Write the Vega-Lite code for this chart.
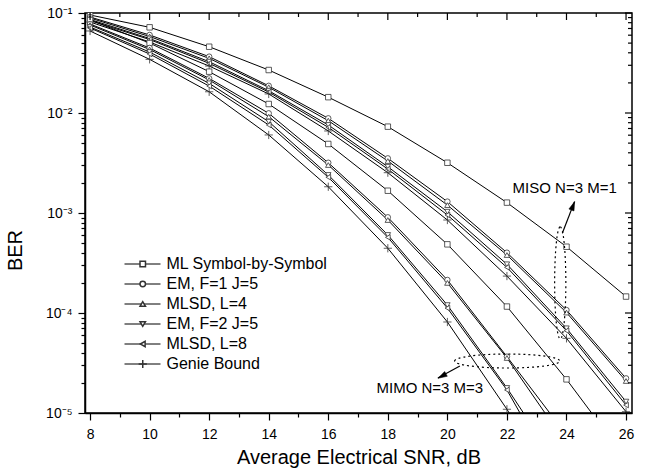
{
  "$schema": "https://vega.github.io/schema/vega-lite/v6.json",
  "width": 547,
  "height": 400,
  "autosize": {"type": "none"},
  "padding": {"left": 85, "top": 13, "right": 15, "bottom": 59},
  "background": "white",
  "config": {
    "font": "Liberation Sans",
    "view": {"stroke": "black", "strokeWidth": 1.5},
    "axis": {
      "grid": false, "domainColor": "black", "domainWidth": 1.5, "tickColor": "black", "tickWidth": 1.2,
      "labelColor": "black", "titleColor": "black", "labelFont": "Liberation Sans", "titleFont": "Liberation Sans",
      "labelFontSize": 14, "titleFontSize": 20, "titleFontWeight": "normal", "labelOverlap": false, "labelFlush": false
    }
  },
  "datasets": {
    "ber": [
      {"system":"MISO","method":"ML Symbol-by-Symbol","snr":8,"ber":0.0955},
      {"system":"MISO","method":"ML Symbol-by-Symbol","snr":10,"ber":0.0719},
      {"system":"MISO","method":"ML Symbol-by-Symbol","snr":12,"ber":0.046},
      {"system":"MISO","method":"ML Symbol-by-Symbol","snr":14,"ber":0.0269},
      {"system":"MISO","method":"ML Symbol-by-Symbol","snr":16,"ber":0.0144},
      {"system":"MISO","method":"ML Symbol-by-Symbol","snr":18,"ber":0.0073},
      {"system":"MISO","method":"ML Symbol-by-Symbol","snr":20,"ber":0.00318},
      {"system":"MISO","method":"ML Symbol-by-Symbol","snr":22,"ber":0.00127},
      {"system":"MISO","method":"ML Symbol-by-Symbol","snr":24,"ber":0.00046},
      {"system":"MISO","method":"ML Symbol-by-Symbol","snr":26,"ber":0.000146},
      {"system":"MISO","method":"EM, F=1 J=5","snr":8,"ber":0.0912},
      {"system":"MISO","method":"EM, F=1 J=5","snr":10,"ber":0.0603},
      {"system":"MISO","method":"EM, F=1 J=5","snr":12,"ber":0.0366},
      {"system":"MISO","method":"EM, F=1 J=5","snr":14,"ber":0.0187},
      {"system":"MISO","method":"EM, F=1 J=5","snr":16,"ber":0.00885},
      {"system":"MISO","method":"EM, F=1 J=5","snr":18,"ber":0.00352},
      {"system":"MISO","method":"EM, F=1 J=5","snr":20,"ber":0.0013},
      {"system":"MISO","method":"EM, F=1 J=5","snr":22,"ber":0.000401},
      {"system":"MISO","method":"EM, F=1 J=5","snr":24,"ber":0.000107},
      {"system":"MISO","method":"EM, F=1 J=5","snr":26,"ber":0.0000222},
      {"system":"MISO","method":"MLSD, L=4","snr":8,"ber":0.0891},
      {"system":"MISO","method":"MLSD, L=4","snr":10,"ber":0.0582},
      {"system":"MISO","method":"MLSD, L=4","snr":12,"ber":0.0352},
      {"system":"MISO","method":"MLSD, L=4","snr":14,"ber":0.0181},
      {"system":"MISO","method":"MLSD, L=4","snr":16,"ber":0.00838},
      {"system":"MISO","method":"MLSD, L=4","snr":18,"ber":0.00331},
      {"system":"MISO","method":"MLSD, L=4","snr":20,"ber":0.0012},
      {"system":"MISO","method":"MLSD, L=4","snr":22,"ber":0.00038},
      {"system":"MISO","method":"MLSD, L=4","snr":24,"ber":0.000101},
      {"system":"MISO","method":"MLSD, L=4","snr":26,"ber":0.0000209},
      {"system":"MISO","method":"EM, F=2 J=5","snr":8,"ber":0.0861},
      {"system":"MISO","method":"EM, F=2 J=5","snr":10,"ber":0.0556},
      {"system":"MISO","method":"EM, F=2 J=5","snr":12,"ber":0.0326},
      {"system":"MISO","method":"EM, F=2 J=5","snr":14,"ber":0.0167},
      {"system":"MISO","method":"EM, F=2 J=5","snr":16,"ber":0.00759},
      {"system":"MISO","method":"EM, F=2 J=5","snr":18,"ber":0.0029},
      {"system":"MISO","method":"EM, F=2 J=5","snr":20,"ber":0.00103},
      {"system":"MISO","method":"EM, F=2 J=5","snr":22,"ber":0.000307},
      {"system":"MISO","method":"EM, F=2 J=5","snr":24,"ber":0.0000703},
      {"system":"MISO","method":"EM, F=2 J=5","snr":26,"ber":0.000013},
      {"system":"MISO","method":"MLSD, L=8","snr":8,"ber":0.0841},
      {"system":"MISO","method":"MLSD, L=8","snr":10,"ber":0.0543},
      {"system":"MISO","method":"MLSD, L=8","snr":12,"ber":0.0314},
      {"system":"MISO","method":"MLSD, L=8","snr":14,"ber":0.0162},
      {"system":"MISO","method":"MLSD, L=8","snr":16,"ber":0.00719},
      {"system":"MISO","method":"MLSD, L=8","snr":18,"ber":0.00275},
      {"system":"MISO","method":"MLSD, L=8","snr":20,"ber":0.000955},
      {"system":"MISO","method":"MLSD, L=8","snr":22,"ber":0.000286},
      {"system":"MISO","method":"MLSD, L=8","snr":24,"ber":0.0000665},
      {"system":"MISO","method":"MLSD, L=8","snr":26,"ber":0.000012},
      {"system":"MISO","method":"Genie Bound","snr":8,"ber":0.0813},
      {"system":"MISO","method":"Genie Bound","snr":10,"ber":0.0513},
      {"system":"MISO","method":"Genie Bound","snr":12,"ber":0.0295},
      {"system":"MISO","method":"Genie Bound","snr":14,"ber":0.0155},
      {"system":"MISO","method":"Genie Bound","snr":16,"ber":0.00661},
      {"system":"MISO","method":"Genie Bound","snr":18,"ber":0.00253},
      {"system":"MISO","method":"Genie Bound","snr":20,"ber":0.000851},
      {"system":"MISO","method":"Genie Bound","snr":22,"ber":0.000234},
      {"system":"MISO","method":"Genie Bound","snr":24,"ber":0.0000558},
      {"system":"MISO","method":"Genie Bound","snr":26,"ber":0.0000103},
      {"system":"MIMO","method":"ML Symbol-by-Symbol","snr":8,"ber":0.0851},
      {"system":"MIMO","method":"ML Symbol-by-Symbol","snr":10,"ber":0.0501},
      {"system":"MIMO","method":"ML Symbol-by-Symbol","snr":12,"ber":0.0259},
      {"system":"MIMO","method":"ML Symbol-by-Symbol","snr":14,"ber":0.0123},
      {"system":"MIMO","method":"ML Symbol-by-Symbol","snr":16,"ber":0.0049},
      {"system":"MIMO","method":"ML Symbol-by-Symbol","snr":18,"ber":0.00167},
      {"system":"MIMO","method":"ML Symbol-by-Symbol","snr":20,"ber":0.000486},
      {"system":"MIMO","method":"ML Symbol-by-Symbol","snr":22,"ber":0.000116},
      {"system":"MIMO","method":"ML Symbol-by-Symbol","snr":24,"ber":0.0000217},
      {"system":"MIMO","method":"ML Symbol-by-Symbol","snr":26,"ber":0.00000347},
      {"system":"MIMO","method":"EM, F=1 J=5","snr":8,"ber":0.0776},
      {"system":"MIMO","method":"EM, F=1 J=5","snr":10,"ber":0.0447},
      {"system":"MIMO","method":"EM, F=1 J=5","snr":12,"ber":0.0222},
      {"system":"MIMO","method":"EM, F=1 J=5","snr":14,"ber":0.00993},
      {"system":"MIMO","method":"EM, F=1 J=5","snr":16,"ber":0.00318},
      {"system":"MIMO","method":"EM, F=1 J=5","snr":18,"ber":0.000906},
      {"system":"MIMO","method":"EM, F=1 J=5","snr":20,"ber":0.000214},
      {"system":"MIMO","method":"EM, F=1 J=5","snr":22,"ber":0.0000366},
      {"system":"MIMO","method":"EM, F=1 J=5","snr":24,"ber":0.00000603},
      {"system":"MIMO","method":"MLSD, L=4","snr":8,"ber":0.0759},
      {"system":"MIMO","method":"MLSD, L=4","snr":10,"ber":0.0432},
      {"system":"MIMO","method":"MLSD, L=4","snr":12,"ber":0.0214},
      {"system":"MIMO","method":"MLSD, L=4","snr":14,"ber":0.00919},
      {"system":"MIMO","method":"MLSD, L=4","snr":16,"ber":0.00302},
      {"system":"MIMO","method":"MLSD, L=4","snr":18,"ber":0.000851},
      {"system":"MIMO","method":"MLSD, L=4","snr":20,"ber":0.0002},
      {"system":"MIMO","method":"MLSD, L=4","snr":22,"ber":0.0000355},
      {"system":"MIMO","method":"MLSD, L=4","snr":24,"ber":0.0000049},
      {"system":"MIMO","method":"EM, F=2 J=5","snr":8,"ber":0.0724},
      {"system":"MIMO","method":"EM, F=2 J=5","snr":10,"ber":0.0407},
      {"system":"MIMO","method":"EM, F=2 J=5","snr":12,"ber":0.0198},
      {"system":"MIMO","method":"EM, F=2 J=5","snr":14,"ber":0.00819},
      {"system":"MIMO","method":"EM, F=2 J=5","snr":16,"ber":0.0024},
      {"system":"MIMO","method":"EM, F=2 J=5","snr":18,"ber":0.000603},
      {"system":"MIMO","method":"EM, F=2 J=5","snr":20,"ber":0.00012},
      {"system":"MIMO","method":"EM, F=2 J=5","snr":22,"ber":0.0000178},
      {"system":"MIMO","method":"EM, F=2 J=5","snr":24,"ber":0.00000224},
      {"system":"MIMO","method":"MLSD, L=8","snr":8,"ber":0.0708},
      {"system":"MIMO","method":"MLSD, L=8","snr":10,"ber":0.0389},
      {"system":"MIMO","method":"MLSD, L=8","snr":12,"ber":0.0186},
      {"system":"MIMO","method":"MLSD, L=8","snr":14,"ber":0.00759},
      {"system":"MIMO","method":"MLSD, L=8","snr":16,"ber":0.00228},
      {"system":"MIMO","method":"MLSD, L=8","snr":18,"ber":0.000571},
      {"system":"MIMO","method":"MLSD, L=8","snr":20,"ber":0.000112},
      {"system":"MIMO","method":"MLSD, L=8","snr":22,"ber":0.000017},
      {"system":"MIMO","method":"MLSD, L=8","snr":24,"ber":0.00000151},
      {"system":"MIMO","method":"Genie Bound","snr":8,"ber":0.0661},
      {"system":"MIMO","method":"Genie Bound","snr":10,"ber":0.0344},
      {"system":"MIMO","method":"Genie Bound","snr":12,"ber":0.0163},
      {"system":"MIMO","method":"Genie Bound","snr":14,"ber":0.00603},
      {"system":"MIMO","method":"Genie Bound","snr":16,"ber":0.00183},
      {"system":"MIMO","method":"Genie Bound","snr":18,"ber":0.000444},
      {"system":"MIMO","method":"Genie Bound","snr":20,"ber":0.0000813},
      {"system":"MIMO","method":"Genie Bound","snr":22,"ber":0.0000109},
      {"system":"MIMO","method":"Genie Bound","snr":24,"ber":0.0000011}
    ],
    "notes": [
      {"label": "MISO N=3 M=1", "snr": 23.94, "ber": 0.00176},
      {"label": "MIMO N=3 M=3", "snr": 19.41, "ber": 0.0000178}
    ],
    "ellipseMISO": [{"snr": 23.79, "ber": 0.0002}],
    "ellipseMIMO": [{"snr": 22.01, "ber": 0.0000331}],
    "arrows": [
      {"snr": 23.86, "ber": 0.000627, "snr2": 24.27, "ber2": 0.0013},
      {"snr": 20.42, "ber": 0.0000295, "snr2": 19.68, "ber2": 0.0000224}
    ],
    "headMISO": [{"snr": 24.22, "ber": 0.00118}],
    "headMIMO": [{"snr": 19.82, "ber": 0.0000234}],
    "xMajor": [{"snr":8},{"snr":10},{"snr":12},{"snr":14},{"snr":16},{"snr":18},{"snr":20},{"snr":22},{"snr":24},{"snr":26}],
    "xMinor": [{"snr":9},{"snr":11},{"snr":13},{"snr":15},{"snr":17},{"snr":19},{"snr":21},{"snr":23},{"snr":25}],
    "yMajor": [{"ber":0.00001},{"ber":0.0001},{"ber":0.001},{"ber":0.01},{"ber":0.1}],
    "yMinor": [{"ber":0.00002},{"ber":0.00003},{"ber":0.00004},{"ber":0.00005},{"ber":0.00006},{"ber":0.00007},{"ber":0.00008},{"ber":0.00009},{"ber":0.0002},{"ber":0.0003},{"ber":0.0004},{"ber":0.0005},{"ber":0.0006},{"ber":0.0007},{"ber":0.0008},{"ber":0.0009},{"ber":0.002},{"ber":0.003},{"ber":0.004},{"ber":0.005},{"ber":0.006},{"ber":0.007},{"ber":0.008},{"ber":0.009},{"ber":0.02},{"ber":0.03},{"ber":0.04},{"ber":0.05},{"ber":0.06},{"ber":0.07},{"ber":0.08},{"ber":0.09}]
  },
  "layer": [
    {
      "data": {"name": "ber"},
      "mark": {"type": "line", "clip": true, "strokeWidth": 1},
      "encoding": {
        "x": {"field": "snr", "type": "quantitative", "scale": {"domain": [7.83, 26.2], "nice": false},
          "axis": {"orient": "bottom", "values": [8,9,10,11,12,13,14,15,16,17,18,19,20,21,22,23,24,25,26],
            "labelExpr": "datum.value % 2 == 0 ? datum.label : ''",
            "tickSize": {"condition": {"test": "datum.value % 2 == 0", "value": 7}, "value": 4},
            "labelPadding": 7, "title": "Average Electrical SNR, dB", "titlePadding": 6}},
        "y": {"field": "ber", "type": "quantitative", "scale": {"type": "log", "domain": [0.00001, 0.1], "nice": false},
          "axis": {"orient": "left",
            "values": [0.00001,0.00002,0.00003,0.00004,0.00005,0.00006,0.00007,0.00008,0.00009,0.0001,0.0002,0.0003,0.0004,0.0005,0.0006,0.0007,0.0008,0.0009,0.001,0.002,0.003,0.004,0.005,0.006,0.007,0.008,0.009,0.01,0.02,0.03,0.04,0.05,0.06,0.07,0.08,0.09,0.1],
            "labelExpr": "abs(log(datum.value)/LN10 - round(log(datum.value)/LN10)) < 0.001 ? '10' + ['⁰','⁻¹','⁻²','⁻³','⁻⁴','⁻⁵'][-round(log(datum.value)/LN10)] : ''",
            "tickSize": {"condition": {"test": "abs(log(datum.value)/LN10 - round(log(datum.value)/LN10)) < 0.001", "value": 7}, "value": 4},
            "labelPadding": 6, "title": "BER", "titleY": 237, "titleX": -60}},
        "color": {"field": "method", "type": "nominal",
          "scale": {"domain": ["ML Symbol-by-Symbol","EM, F=1 J=5","MLSD, L=4","EM, F=2 J=5","MLSD, L=8","Genie Bound"],
            "range": ["#000","#000","#000","#000","#000","#000"]},
          "legend": {"orient": "none", "legendX": 37, "legendY": 243, "title": null, "padding": 0,
            "symbolType": "M-6,0H6", "symbolSize": 36, "symbolStrokeWidth": 1, "symbolOffset": 12.5,
            "labelFontSize": 16, "labelFont": "Liberation Sans", "labelColor": "black", "labelOffset": 16, "labelLimit": 300, "rowPadding": 4, "zindex": 0}},
        "detail": {"field": "system"}
      }
    },
    {
      "data": {"name": "ber"},
      "mark": {"type": "point", "clip": true, "filled": true, "fill": "white", "stroke": "#333", "strokeWidth": 0.8, "size": 30, "opacity": 1},
      "encoding": {
        "x": {"field": "snr", "type": "quantitative", "scale": {"domain": [7.83, 26.2], "nice": false}, "axis": null},
        "y": {"field": "ber", "type": "quantitative", "scale": {"type": "log", "domain": [0.00001, 0.1], "nice": false}, "axis": null},
        "shape": {"field": "method", "type": "nominal",
          "sort": ["ML Symbol-by-Symbol","EM, F=1 J=5","MLSD, L=4","EM, F=2 J=5","MLSD, L=8","Genie Bound"],
          "scale": {"range": ["square","circle","triangle-up","triangle-down","triangle-left","M-1.5,0H1.5M0,-1.5V1.5"]},
          "legend": {"orient": "none", "legendX": 37, "legendY": 243, "title": null, "padding": 0,
            "symbolSize": 30, "symbolOffset": 12.75,
            "labelFontSize": 16, "labelFont": "Liberation Sans", "labelColor": "transparent", "labelOffset": 16, "labelLimit": 300, "rowPadding": 4, "zindex": 1,
            "encode": {"symbols": {"update": {"fill": {"value": "white"}, "stroke": {"value": "#333"}, "strokeWidth": {"value": 0.8}, "opacity": {"value": 1}}}}}}
      }
    },
    {
      "data": {"name": "xMajor"},
      "mark": {"type": "rule", "color": "black", "strokeWidth": 1.2},
      "encoding": {
        "x": {"field": "snr", "type": "quantitative", "scale": {"domain": [7.83, 26.2], "nice": false}, "axis": null},
        "y": {"datum": 0.1, "type": "quantitative", "scale": {"type": "log", "domain": [0.00001, 0.1], "nice": false}, "axis": null},
        "y2": {"datum": 0.0851}
      }
    },
    {
      "data": {"name": "xMinor"},
      "mark": {"type": "rule", "color": "black", "strokeWidth": 1.2},
      "encoding": {
        "x": {"field": "snr", "type": "quantitative", "scale": {"domain": [7.83, 26.2], "nice": false}, "axis": null},
        "y": {"datum": 0.1, "type": "quantitative", "scale": {"type": "log", "domain": [0.00001, 0.1], "nice": false}, "axis": null},
        "y2": {"datum": 0.0912}
      }
    },
    {
      "data": {"name": "yMajor"},
      "mark": {"type": "rule", "color": "black", "strokeWidth": 1.2},
      "encoding": {
        "y": {"field": "ber", "type": "quantitative", "scale": {"type": "log", "domain": [0.00001, 0.1], "nice": false}, "axis": null},
        "x": {"datum": 26.2, "type": "quantitative", "scale": {"domain": [7.83, 26.2], "nice": false}, "axis": null},
        "x2": {"datum": 25.965}
      }
    },
    {
      "data": {"name": "yMinor"},
      "mark": {"type": "rule", "color": "black", "strokeWidth": 1.2},
      "encoding": {
        "y": {"field": "ber", "type": "quantitative", "scale": {"type": "log", "domain": [0.00001, 0.1], "nice": false}, "axis": null},
        "x": {"datum": 26.2, "type": "quantitative", "scale": {"domain": [7.83, 26.2], "nice": false}, "axis": null},
        "x2": {"datum": 26.066}
      }
    },
    {
      "data": {"name": "notes"},
      "mark": {"type": "text", "fontSize": 15, "font": "Liberation Sans", "color": "black", "align": "center", "baseline": "middle"},
      "encoding": {
        "x": {"field": "snr", "type": "quantitative", "scale": {"domain": [7.83, 26.2], "nice": false}, "axis": null},
        "y": {"field": "ber", "type": "quantitative", "scale": {"type": "log", "domain": [0.00001, 0.1], "nice": false}, "axis": null},
        "text": {"field": "label"}
      }
    },
    {
      "data": {"name": "ellipseMISO"},
      "mark": {"type": "point", "shape": "M0,-1 A0.1,1 0 1,1 0,1 A0.1,1 0 1,1 0,-1", "size": 12544, "filled": false, "stroke": "black", "strokeWidth": 1.2, "strokeDash": [2, 3], "opacity": 1},
      "encoding": {
        "x": {"field": "snr", "type": "quantitative", "scale": {"domain": [7.83, 26.2], "nice": false}, "axis": null},
        "y": {"field": "ber", "type": "quantitative", "scale": {"type": "log", "domain": [0.00001, 0.1], "nice": false}, "axis": null}
      }
    },
    {
      "data": {"name": "ellipseMIMO"},
      "mark": {"type": "point", "shape": "M-0.94,0 A0.94,0.125 0 1,1 0.94,0 A0.94,0.125 0 1,1 -0.94,0", "size": 12544, "filled": false, "stroke": "black", "strokeWidth": 1.2, "strokeDash": [2, 3], "opacity": 1},
      "encoding": {
        "x": {"field": "snr", "type": "quantitative", "scale": {"domain": [7.83, 26.2], "nice": false}, "axis": null},
        "y": {"field": "ber", "type": "quantitative", "scale": {"type": "log", "domain": [0.00001, 0.1], "nice": false}, "axis": null}
      }
    },
    {
      "data": {"name": "arrows"},
      "mark": {"type": "rule", "color": "black", "strokeWidth": 1.2},
      "encoding": {
        "x": {"field": "snr", "type": "quantitative", "scale": {"domain": [7.83, 26.2], "nice": false}, "axis": null},
        "y": {"field": "ber", "type": "quantitative", "scale": {"type": "log", "domain": [0.00001, 0.1], "nice": false}, "axis": null},
        "x2": {"field": "snr2"},
        "y2": {"field": "ber2"}
      }
    },
    {
      "data": {"name": "headMISO"},
      "mark": {"type": "point", "shape": "M0,-1L0.6,1L-0.6,1Z", "size": 81, "angle": 21, "filled": true, "fill": "black", "stroke": "black", "strokeWidth": 0.5, "opacity": 1},
      "encoding": {
        "x": {"field": "snr", "type": "quantitative", "scale": {"domain": [7.83, 26.2], "nice": false}, "axis": null},
        "y": {"field": "ber", "type": "quantitative", "scale": {"type": "log", "domain": [0.00001, 0.1], "nice": false}, "axis": null}
      }
    },
    {
      "data": {"name": "headMIMO"},
      "mark": {"type": "point", "shape": "M0,-1L0.6,1L-0.6,1Z", "size": 81, "angle": 241, "filled": true, "fill": "black", "stroke": "black", "strokeWidth": 0.5, "opacity": 1},
      "encoding": {
        "x": {"field": "snr", "type": "quantitative", "scale": {"domain": [7.83, 26.2], "nice": false}, "axis": null},
        "y": {"field": "ber", "type": "quantitative", "scale": {"type": "log", "domain": [0.00001, 0.1], "nice": false}, "axis": null}
      }
    }
  ],
  "resolve": {"axis": {"x": "independent", "y": "independent"}}
}
